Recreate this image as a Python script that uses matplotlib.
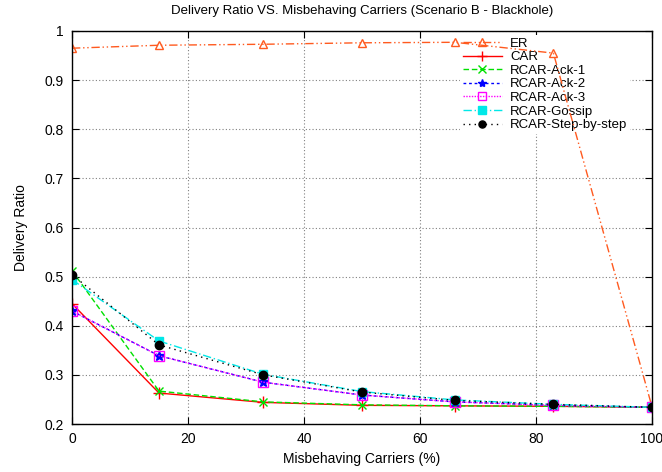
import matplotlib

matplotlib.use("Agg")
import matplotlib.pyplot as plt  # noqa: E402
from matplotlib.ticker import FormatStrFormatter, MultipleLocator  # noqa: E402

plt.rcParams["font.family"] = ["Liberation Sans", "DejaVu Sans"]

carriers = [0, 15, 33, 50, 66, 83, 100]

er = [0.965, 0.971, 0.973, 0.976, 0.977, 0.955, 0.235]
car = [0.445, 0.263, 0.244, 0.238, 0.237, 0.236, 0.234]
ack1 = [0.512, 0.267, 0.245, 0.239, 0.237, 0.236, 0.234]
ack2 = [0.430, 0.339, 0.285, 0.259, 0.245, 0.238, 0.234]
ack3 = [0.430, 0.339, 0.285, 0.259, 0.245, 0.238, 0.234]
gossip = [0.494, 0.369, 0.301, 0.266, 0.249, 0.240, 0.234]
step = [0.504, 0.361, 0.300, 0.265, 0.248, 0.240, 0.234]

series = [
    ("ER", er, dict(color="#ff5a1f", linestyle=(0, (6, 2, 1, 2, 1, 2)), marker="^",
                    markerfacecolor="none", markersize=6)),
    ("CAR", car, dict(color="#ff0000", linestyle="-", marker="+", markersize=8)),
    ("RCAR-Ack-1", ack1, dict(color="#00e000", linestyle=(0, (4, 2)), marker="x", markersize=6)),
    ("RCAR-Ack-2", ack2, dict(color="#0000ff", linestyle=(0, (2, 2)), marker="*", markersize=7)),
    ("RCAR-Ack-3", ack3, dict(color="#ff00ff", linestyle=(0, (1, 1)), marker="s",
                              markerfacecolor="none", markersize=7)),
    ("RCAR-Gossip", gossip, dict(color="#00e8e8", linestyle=(0, (6, 2, 1, 2)), marker="s",
                                 markersize=6)),
    ("RCAR-Step-by-step", step, dict(color="#000000", linestyle=(0, (1, 3)), marker="o",
                                     markersize=6)),
]

fig = plt.figure(figsize=(6.62, 4.72), dpi=100)
ax = fig.add_axes([72 / 662, 1 - 424 / 472, 580 / 662, 393 / 472])

for label, values, style in series:
    ax.plot(carriers, values, linewidth=1.0, markeredgewidth=1.0, label=label, **style)

ax.set_xlim(0, 100)
ax.set_ylim(0.2, 1.0)
ax.xaxis.set_major_locator(MultipleLocator(20))
ax.yaxis.set_major_locator(MultipleLocator(0.1))
ax.yaxis.set_major_formatter(FormatStrFormatter("%g"))
ax.tick_params(direction="in", top=True, right=True, length=5, labelsize=10, pad=6)
ax.grid(True, color="#808080", linestyle=(0, (1, 2)), linewidth=0.8)
ax.set_axisbelow(True)
for spine in ax.spines.values():
    spine.set_linewidth(1.0)

ax.set_title("Delivery Ratio VS. Misbehaving Carriers (Scenario B - Blackhole)",
             fontsize=9.5, pad=12)
ax.set_xlabel("Misbehaving Carriers (%)", fontsize=10, labelpad=4)
ax.set_ylabel("Delivery Ratio", fontsize=10, labelpad=12)

# legend sits above the grid but beneath the data lines
legend = ax.legend(loc="upper right", bbox_to_anchor=(0.962, 0.99), fontsize=9.5,
                   frameon=True, framealpha=1.0, edgecolor="none", facecolor="white",
                   handlelength=3.0, handletextpad=0.6, labelspacing=0.1,
                   borderpad=0.2, borderaxespad=0.0, markerscale=0.85)
legend.set_zorder(1.5)

fig.savefig("out.png", dpi=100)
